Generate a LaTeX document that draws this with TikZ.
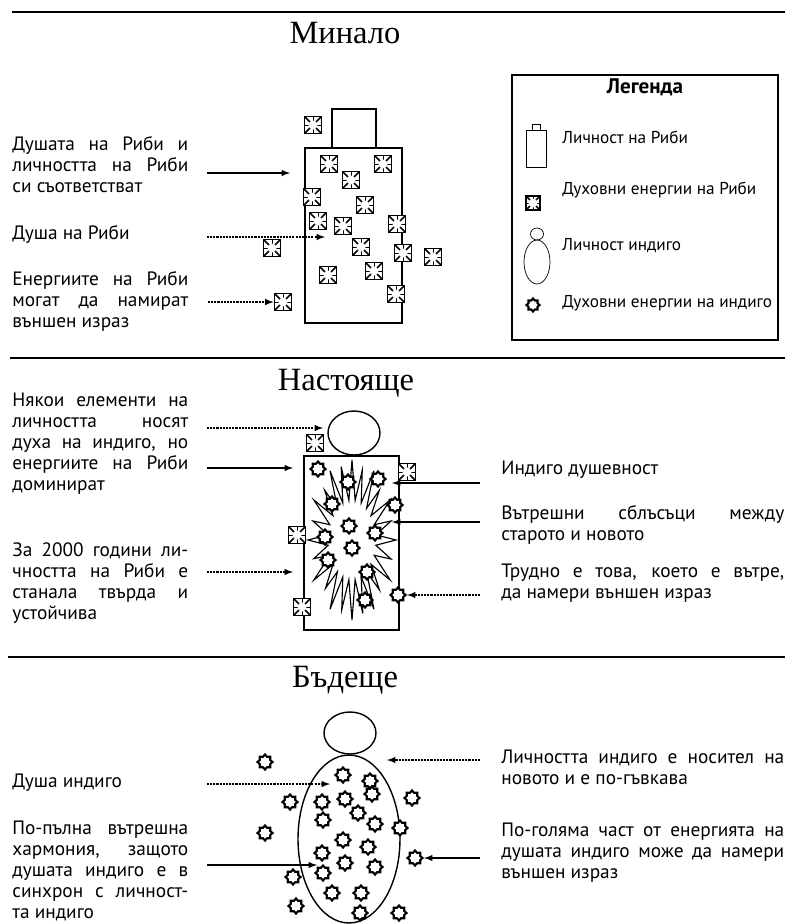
\documentclass[tikz,border=0pt]{standalone}
\usepackage{fontspec}
\setmainfont{PT Sans}
\newfontfamily\titlefont{Liberation Serif}
\usepackage{tikz}
\usetikzlibrary{arrows}
\usetikzlibrary{shapes.geometric}
\tikzstyle{title}=[font=\titlefont\fontsize{18.5}{22}\selectfont, inner sep=0pt]
\tikzstyle{txt}=[font=\fontsize{11}{12}\selectfont, inner sep=0pt, anchor=base west, text width=3.52cm, align=justify]
\tikzstyle{rtxt}=[txt, text width=5.66cm]
\tikzstyle{legtxt}=[font=\fontsize{9.8}{11}\selectfont, inner sep=0pt, anchor=west]
\tikzstyle{rule}=[-, line width=1.1pt]
\tikzstyle{edge}=[->, line width=0.65pt, -latex]
\tikzstyle{dotedge}=[edge, dash pattern=on 1.2pt off 0.6pt]
\tikzstyle{body}=[rectangle, draw, thick, inner sep=0pt]
\tikzstyle{soul}=[ellipse, draw, thick, inner sep=0pt]
\tikzstyle{fish}=[rectangle, draw, line width=1.1pt, fill=white, minimum size=0.34cm, inner sep=0pt, path picture={
	\draw[line width=0.9pt] (path picture bounding box.south west) -- (path picture bounding box.north east)
		(path picture bounding box.north west) -- (path picture bounding box.south east);
	\draw[line width=0.5pt] (path picture bounding box.north) -- (path picture bounding box.south)
		(path picture bounding box.west) -- (path picture bounding box.east);
	\fill (path picture bounding box.center) circle (0.09cm);}]
\tikzstyle{indigo}=[star, star points=8, star point ratio=1.35, draw, line width=1.2pt, fill=white, minimum size=0.3cm, inner sep=0pt]
\tikzstyle{burst}=[line width=0.65pt]

\begin{document}
\begin{tikzpicture}[x=0.02cm, y=-0.02cm]
	\useasboundingbox (0,0) rectangle (785,924);

	%The rules
	\draw[rule] (12,12) -- (785,12);
	\draw[rule] (10,358) -- (785,358);
	\draw[rule] (8,657) -- (785,657);

	%The past
	\draw (345,33) node[title] (past) {Минало};
	\draw (354,128.5) node[body, minimum width=0.88cm, minimum height=0.78cm] (phead) {};
	\draw (353.5,235.5) node[body, minimum width=1.94cm, minimum height=3.5cm] (pbody) {};
	\foreach \x/\y [count=\i] in {313/125, 329/164, 383/164, 351/180, 312/197, 365/205, 318/221, 343/226, 397/224,
		272/248, 361/247, 403/253, 433/257, 328/275, 374/271, 396/294, 283/302}
		\draw (\x,\y) node[fish] (e\i) {};

	\draw (12,150) node[txt] (t1) {Душата на Риби и\linebreak личността на Риби\linebreak си съответстват};
	\draw (12,239) node[txt] (t2) {Душа на Риби};
	\draw (12,285) node[txt] (t3) {Енергиите на Риби\linebreak могат да намират\linebreak външен израз};

	\coordinate (a1) at (207,173);
	\coordinate (a1e) at (290,173);
	\coordinate (a2) at (207,237);
	\coordinate (a2e) at (325,237);
	\coordinate (a3) at (208,302);
	\draw[edge] (a1) -- (a1e);
	\draw[dotedge] (a2) -- (a2e);
	\draw[dotedge] (a3) -- (e17);

	%The legend
	\draw[thick] (512,75) rectangle (778,340);
	\draw (645,87) node[font=\bfseries\fontsize{12}{14}\selectfont, inner sep=0pt] (leg) {Легенда};
	\draw (536,148.5) node[body, thin, minimum width=0.4cm, minimum height=0.74cm] (lpbody) {};
	\draw (536,127) node[body, thin, minimum width=0.16cm, minimum height=0.12cm] (lphead) {};
	\draw (533,203) node[fish, minimum size=0.28cm] (lfish) {};
	\draw (537,234) node[soul, thin, minimum width=0.26cm, minimum height=0.24cm] (lihead) {};
	\draw (537,262) node[soul, thin, minimum width=0.52cm, minimum height=0.88cm] (libody) {};
	\draw (533,305) node[indigo, minimum size=0.26cm] (lstar) {};
	\draw (562,137) node[legtxt] (l1) {Личност на Риби};
	\draw (562,190) node[legtxt] (l2) {Духовни енергии на Риби};
	\draw (562,246) node[legtxt] (l3) {Личност индиго};
	\draw (562,303) node[legtxt] (l4) {Духовни енергии на индиго};

	%The present
	\draw (346,383) node[title] (present) {Настояще};
	\draw (354,433) node[soul, minimum width=1.04cm, minimum height=0.88cm] (nhead) {};
	\draw (351.5,543) node[body, minimum width=1.9cm, minimum height=3.48cm] (nbody) {};
	\draw[burst] (396,540) \foreach \a/\r in {15/0.92, 30/1, 45/0.88, 60/1, 75/0.95, 90/1, 105/0.9, 120/1, 135/0.85, 150/1,
		165/0.9, 180/1, 195/0.92, 210/1, 225/0.88, 240/1, 255/0.95, 270/1, 285/0.9, 300/1, 315/0.88, 330/1, 345/0.92, 360/1}
		{ -- ({352+24*cos(\a-7.5)},{540+40*sin(\a-7.5)}) -- ({352+44*\r*cos(\a)},{540+80*\r*sin(\a)}) } -- cycle;
	\foreach \x/\y [count=\i] in {398/595, 318/469, 348/482, 378/479, 332/504, 395/505, 349/526, 375/533,
		325/537, 352/548, 328/560, 367/572, 365/600}
		\draw (\x,\y) node[indigo] (ns\i) {};
	\foreach \x/\y [count=\i] in {315/443, 407/472, 297/535, 302/607}
		\draw (\x,\y) node[fish] (ne\i) {};

	\draw (12,406) node[txt] (t4) {Някои елементи на\linebreak личността носят\linebreak духа на индиго, но\linebreak енергиите на Риби\linebreak доминират};
	\draw (12,556) node[txt] (t5) {За 2000 години ли-\linebreak чността на Риби е\linebreak станала твърда и\linebreak устойчива};
	\draw (501,474) node[rtxt] (t6) {Индиго душевност};
	\draw (501,519) node[rtxt] (t7) {Вътрешни сблъсъци между\linebreak старото и новото};
	\draw (501,577) node[rtxt] (t8) {Трудно е това, което е вътре,\linebreak да намери външен израз};

	\coordinate (b1) at (207,428);
	\coordinate (b1e) at (323,428);
	\coordinate (b2) at (207,468);
	\coordinate (b2e) at (293,468);
	\coordinate (b3) at (207,572);
	\coordinate (b3e) at (293,572);
	\coordinate (b4) at (480,483);
	\coordinate (b4e) at (392,483);
	\coordinate (b5) at (480,522);
	\coordinate (b5e) at (392,522);
	\coordinate (b6) at (480,595);
	\draw[dotedge] (b1) -- (b1e);
	\draw[edge] (b2) -- (b2e);
	\draw[dotedge] (b3) -- (b3e);
	\draw[edge] (b4) -- (b4e);
	\draw[edge] (b5) -- (b5e);
	\draw[dotedge] (b6) -- (ns1);

	%The future
	\draw (345,680) node[title] (future) {Бъдеще};
	\draw (350,733) node[soul, minimum width=1.04cm, minimum height=0.84cm] (fhead) {};
	\draw (349,839) node[soul, minimum width=2.04cm, minimum height=3.36cm] (fbody) {};
	\foreach \x/\y [count=\i] in {415/858, 265/762, 290/802, 412/798, 265/833, 293/877, 296/906, 399/913,
		343/775, 370/781, 322/802, 345/799, 372/794, 323/820, 358/813, 375/824, 400/828, 343/840,
		368/847, 322/853, 345/863, 375/867, 323/873, 332/893, 361/893, 360/913}
		\draw (\x,\y) node[indigo] (fs\i) {};

	\draw (12,787) node[txt] (t9) {Душа индиго};
	\draw (12,834) node[txt] (t10) {По-пълна вътрешна\linebreak хармония, защото\linebreak душата индиго е в\linebreak синхрон с личност-\linebreak та индиго};
	\draw (501,763) node[rtxt] (t11) {Личността индиго е носител на\linebreak новото и е по-гъвкава};
	\draw (501,836) node[rtxt] (t12) {По-голяма част от енергията на\linebreak душата индиго може да намери\linebreak външен израз};

	\coordinate (c1) at (207,784);
	\coordinate (c1e) at (330,784);
	\coordinate (c2) at (207,865);
	\coordinate (c2e) at (317,865);
	\coordinate (c3) at (480,760);
	\coordinate (c3e) at (387,760);
	\coordinate (c4) at (480,858);
	\draw[dotedge] (c1) -- (c1e);
	\draw[edge] (c2) -- (c2e);
	\draw[dotedge] (c3) -- (c3e);
	\draw[edge] (c4) -- (fs1);
\end{tikzpicture}
\end{document}
